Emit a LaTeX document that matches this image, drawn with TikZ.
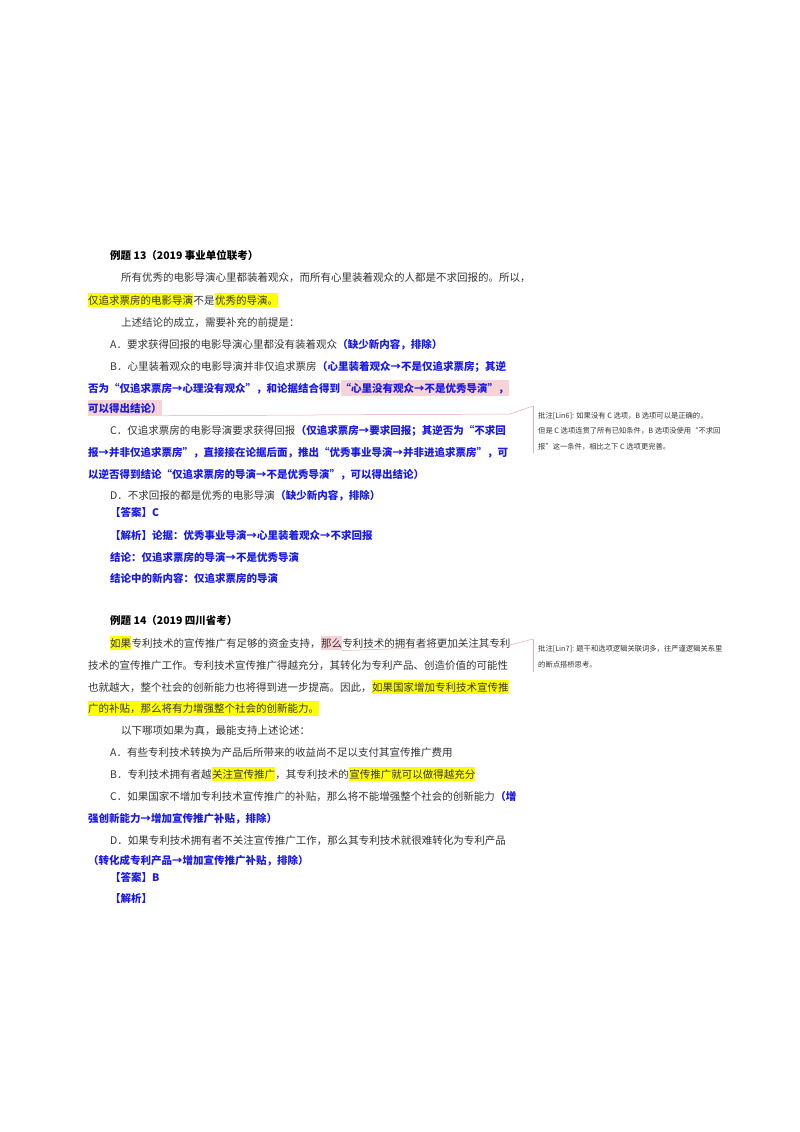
\documentclass[tikz,border=0pt]{standalone}
\usepackage{fontspec}
\setmainfont{Noto Sans CJK SC}
\definecolor{body}{HTML}{333333}
\definecolor{bl}{HTML}{1A1AE6}
\definecolor{hy}{HTML}{FFFF00}
\definecolor{hp}{HTML}{F6D3D6}
\definecolor{cl}{HTML}{E8A8AE}
\begin{document}
\begin{tikzpicture}[x=1pt,y=-1pt,
  txt/.style={anchor=base west,inner xsep=0pt,inner ysep=2.5pt,font=\fontsize{10.5}{12}\selectfont,text=body},
  blu/.style={txt,font=\fontsize{10.5}{12}\selectfont\bfseries,text=bl},
  hd/.style={txt,font=\fontsize{10.5}{12}\selectfont\bfseries,text=black},
  hl/.style={fill=hy},
  pk/.style={fill=hp},
  note/.style={anchor=base west,inner sep=0pt,font=\fontsize{7.3}{9}\selectfont,text=body},
  cln/.style={draw=cl,line width=0.5pt}]
\useasboundingbox (0,0) rectangle (800,1132);
% Example 13
\node[hd] (a1) at (110,259) {例题 13（2019 事业单位联考）};
\node[txt] (a2) at (121,281) {所有优秀的电影导演心里都装着观众，而所有心里装着观众的人都是不求回报的。所以，};
\node[txt,hl] (a3) at (88,304) {仅追求票房的电影导演};
\node[txt] (a3b) at (a3.base east) {不是};
\node[txt,hl] (a3c) at (a3b.base east) {优秀的导演。};
\node[txt] (a4) at (121,326) {上述结论的成立，需要补充的前提是：};
\node[txt] (a5) at (110,348) {A．要求获得回报的电影导演心里都没有装着观众};
\node[blu] (a5b) at (a5.base east) {（缺少新内容，排除）};
\node[txt] (a6) at (110,370) {B．心里装着观众的电影导演并非仅追求票房};
\node[blu] (a6b) at (a6.base east) {（心里装着观众→不是仅追求票房；其逆};
\node[blu] (a7) at (88,392) {否为“仅追求票房→心理没有观众”，和论据结合得到};
\node[blu,pk] (a7b) at (a7.base east) {“心里没有观众→不是优秀导演”，};
\node[blu,pk] (a8) at (88,412) {可以得出结论）};
\node[txt] (a9) at (110,434) {C．仅追求票房的电影导演要求获得回报};
\node[blu] (a9b) at (a9.base east) {（仅追求票房→要求回报；其逆否为“不求回};
\node[blu] (a10) at (88,456) {报→并非仅追求票房”，直接接在论据后面，推出“优秀事业导演→并非进追求票房”，可};
\node[blu] (a11) at (88,478) {以逆否得到结论“仅追求票房的导演→不是优秀导演”，可以得出结论）};
\node[txt] (a12) at (110,499) {D．不求回报的都是优秀的电影导演};
\node[blu] (a12b) at (a12.base east) {（缺少新内容，排除）};
\node[blu] (a13) at (110,516) {【答案】C};
\node[blu] (a14) at (110,539) {【解析】论据：优秀事业导演→心里装着观众→不求回报};
\node[blu] (a15) at (110,561) {结论：仅追求票房的导演→不是优秀导演};
\node[blu] (a16) at (110,582) {结论中的新内容：仅追求票房的导演};
% Example 14
\node[hd] (b1) at (110,624) {例题 14（2019 四川省考）};
\node[txt,hl] (b2) at (110,647) {如果};
\node[txt] (b2b) at (b2.base east) {专利技术的宣传推广有足够的资金支持，};
\node[txt,pk] (b2c) at (b2b.base east) {那么};
\node[txt] (b2d) at (b2c.base east) {专利技术的拥有者将更加关注其专利};
\node[txt] (b3) at (88,669) {技术的宣传推广工作。专利技术宣传推广得越充分，其转化为专利产品、创造价值的可能性};
\node[txt] (b4) at (88,691) {也就越大，整个社会的创新能力也将得到进一步提高。因此，};
\node[txt,hl] (b4b) at (b4.base east) {如果国家增加专利技术宣传推};
\node[txt,hl] (b5) at (88,712) {广的补贴，那么将有力增强整个社会的创新能力。};
\node[txt] (b6) at (121,734) {以下哪项如果为真，最能支持上述论述：};
\node[txt] (b7) at (110,756) {A．有些专利技术转换为产品后所带来的收益尚不足以支付其宣传推广费用};
\node[txt] (b8) at (110,778) {B．专利技术拥有者越};
\node[txt,hl] (b8b) at (b8.base east) {关注宣传推广};
\node[txt] (b8c) at (b8b.base east) {，其专利技术的};
\node[txt,hl] (b8d) at (b8c.base east) {宣传推广就可以做得越充分};
\node[txt] (b9) at (110,800) {C．如果国家不增加专利技术宣传推广的补贴，那么将不能增强整个社会的创新能力};
\node[blu] (b9b) at (b9.base east) {（增};
\node[blu] (b10) at (88,822) {强创新能力→增加宣传推广补贴，排除）};
\node[txt] (b11) at (110,844) {D．如果专利技术拥有者不关注宣传推广工作，那么其专利技术就很难转化为专利产品};
\node[blu] (b12) at (88,864) {（转化成专利产品→增加宣传推广补贴，排除）};
\node[blu] (b13) at (110,881) {【答案】B};
\node[blu] (b14) at (110,902) {【解析】};
% Comments
\node[note] (c1) at (538,418) {批注[Lin6]: 如果没有 C 选项，B 选项可以是正确的，};
\node[note] (c2) at (538,433) {但是 C 选项连贯了所有已知条件，B 选项没使用“不求回};
\node[note] (c3) at (538,449) {报”这一条件，相比之下 C 选项更完善。};
\coordinate (v1t) at (533,406); \coordinate (v1b) at (533,453);
\draw[cln] (v1t) -- (v1b);
\coordinate (k1) at (510,414);
\draw[cln] (a8.south east) -- (k1) -- (v1t);
\node[note] (c4) at (538,651) {批注[Lin7]: 题干和选项逻辑关联词多，往严谨逻辑关系里};
\node[note] (c5) at (538,667) {的断点搭桥思考。};
\coordinate (v2t) at (533,639); \coordinate (v2b) at (533,672);
\draw[cln] (v2t) -- (v2b);
\coordinate (k2) at (510,645);
\draw[cln] (b2c.south east) -- (k2) -- (v2t);
\end{tikzpicture}
\end{document}
